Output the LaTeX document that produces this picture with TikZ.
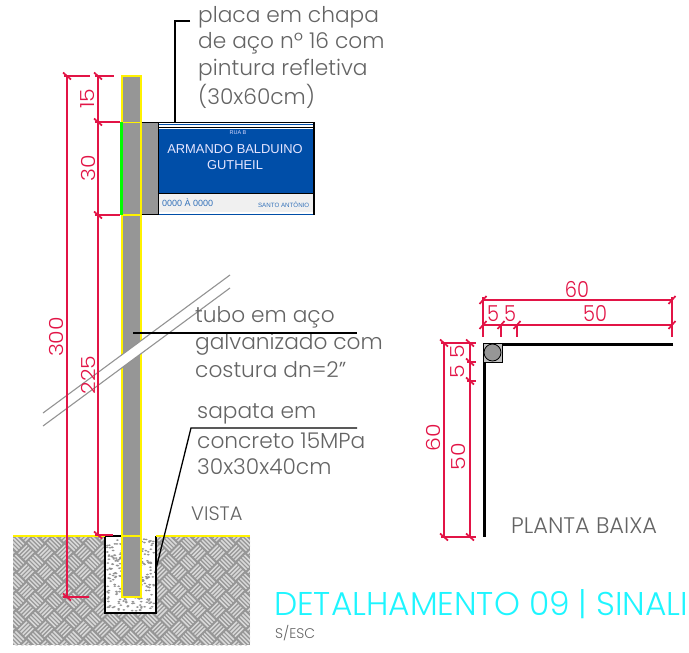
\documentclass[tikz,border=0pt]{standalone}
\usepackage{fontspec}
\setmainfont{Poppins}[UprightFont={* Light}]
\newfontfamily\arialfont{Liberation Sans}
\definecolor{dimred}{RGB}{226,20,70}
\definecolor{textgray}{RGB}{100,100,100}
\definecolor{polegray}{RGB}{150,150,150}
\definecolor{plateblue}{RGB}{0,78,168}
\definecolor{titlecyan}{RGB}{30,245,255}
\begin{document}
\begin{tikzpicture}[x=1pt, y=-1pt]
	\tikzstyle{dimline} = [draw=dimred, line width=1.2pt]
	\tikzstyle{dimtick} = [draw=dimred, line width=1.7pt]
	\tikzstyle{dimtext} = [text=dimred, font=\fontsize{22}{22}\selectfont, inner sep=0pt, xscale=0.88]
	\tikzstyle{note}    = [text=textgray, font=\fontsize{21.7}{21.7}\selectfont, inner sep=0pt, anchor=west]
	\tikzstyle{leader}  = [draw=black, line width=1.3pt]
	\tikzstyle{breakln} = [draw=gray!85, line width=1.1pt]
	\useasboundingbox (0,0) rectangle (689,653);

	% terreno
	\begin{scope}
		\clip (13,537) rectangle (250,645);
		\fill[polegray] (13,537) rectangle (250,645);
		\begin{scope}[shift={(131,591)}, rotate=45]
			\foreach \i in {-10,...,9}
				\foreach \j in {-10,...,9} {
					\pgfmathparse{int(mod(\i+\j+100,2))}
					\ifnum\pgfmathresult=0
						\foreach \k in {2.2,5.2,8.2,11.2}
							\draw[gray!30, line width=1.5pt] (\i*13.5+0.8,\j*13.5+\k) -- (\i*13.5+12.7,\j*13.5+\k);
					\else
						\foreach \k in {2.2,5.2,8.2,11.2}
							\draw[gray!30, line width=1.5pt] (\i*13.5+\k,\j*13.5+0.8) -- (\i*13.5+\k,\j*13.5+12.7);
					\fi
				}
		\end{scope}
	\end{scope}

	% sapata
	\fill[white] (105,537) rectangle (156,613);
	\pgfmathsetseed{9}
	\foreach \n in {1,...,260} {
		\pgfmathsetmacro{\px}{107+47*rnd}
		\pgfmathsetmacro{\py}{539+72*rnd}
		\fill[gray!85] (\px,\py) ellipse (1.5 and 0.9);
	}
	\draw[black, line width=1.3pt] (121,536) -- (105,536) -- (105,613) -- (156,613) -- (156,536);
	\draw[yellow, line width=2.4pt] (13,536) -- (105,536) (156,536) -- (250,536);

	% poste
	\draw[yellow, fill=polegray, line width=2pt] (121.5,76) rectangle (140.5,597);
	\draw[yellow, line width=1.6pt] (121.5,122.5) -- (140.5,122.5) (121.5,215) -- (140.5,215) (121.5,536) -- (140.5,536);
	\draw[green, line width=2.4pt] (121.5,122) -- (121.5,215);

	% placa
	\fill[polegray] (141.5,123) rectangle (158,215);
	\fill[plateblue] (158,129) rectangle (314,193);
	\fill[gray!12] (158,194) rectangle (314,212);
	\draw[black, line width=1.8pt] (141.5,122.5) -- (314,122.5) (158,127.5) -- (314,127.5) (158,193.5) -- (314,193.5) (141.5,214.5) -- (314,214.5);
	\draw[black, line width=1.2pt] (158.5,122) -- (158.5,215) (314,122) -- (314,215);
	\draw[plateblue, line width=0.8pt] (159,124.5) -- (313,124.5) (159,214.5) -- (313,214.5);
	\node[text=white!85!blue, font=\arialfont\fontsize{5.5}{5.5}\selectfont] (ruab) at (238,133) {RUA B};
	\node[text=white!90!blue, font=\arialfont\fontsize{12.9}{12.9}\selectfont, inner sep=0pt] (rua1) at (235,149) {ARMANDO BALDUINO};
	\node[text=white!90!blue, font=\arialfont\fontsize{12.9}{12.9}\selectfont, inner sep=0pt] (rua2) at (235,165) {GUTHEIL};
	\node[text=plateblue!80!white, font=\arialfont\fontsize{9}{9}\selectfont, inner sep=0pt, anchor=west] (numeros) at (162,202.5) {0000 À 0000};
	\node[text=plateblue!80!white, font=\arialfont\fontsize{6.2}{6.2}\selectfont, inner sep=0pt, anchor=east] (bairro) at (309.5,204.5) {SANTO ANTÔNIO};

	% linhas de corte
	\fill[white] (43,413) -- (230,275) -- (230,288) -- (43,426) -- cycle;
	\draw[breakln] (43,413) -- (230,275);
	\draw[breakln] (43,426) -- (230,288);

	% cotas verticais, vista
	\draw[dimline] (67,76) -- (67,597);
	\draw[dimline] (98,76) -- (98,535);
	\foreach \xa/\xb/\y in {64/90/76, 63/89/597, 95/114/76, 95/120/122, 95/120/215, 95/113/535}
		\draw[dimline] (\xa,\y) -- (\xb,\y);
	\foreach \x/\y in {67/76, 67/597, 98/76, 98/122, 98/215, 98/535}
		\draw[dimtick] (\x-4,\y-3.5) -- (\x+4,\y+3.5);
	\foreach \name/\x/\y/\txt in {cota15/88/99/15, cota30/88/168/30, cota225/88/375/225, cota300/56/337/300}
		\node[dimtext, rotate=90] (\name) at (\x,\y) {\txt};

	% cotas, planta
	\draw[dimline] (483,300) -- (672,300);
	\draw[dimline] (483,325) -- (672,325);
	\draw[dimline] (483,297) -- (483,337);
	\draw[dimline] (672,297) -- (672,337);
	\draw[dimline] (501,325) -- (501,337);
	\draw[dimline] (517,325) -- (517,337);
	\foreach \x/\y in {483/300, 672/300, 483/325, 501/325, 517/325, 672/325}
		\draw[dimtick] (\x-3.5,\y+4) -- (\x+3.5,\y-4);
	\draw[dimline] (444,343) -- (444,537);
	\draw[dimline] (470,343) -- (470,537);
	\draw[dimline] (441,343) -- (476,343);
	\draw[dimline] (441,537) -- (476,537);
	\draw[dimline] (467,362) -- (476,362);
	\draw[dimline] (467,381) -- (476,381);
	\foreach \x/\y in {444/343, 470/343, 470/362, 470/381, 444/537, 470/537}
		\draw[dimtick] (\x-4,\y-3.5) -- (\x+4,\y+3.5);
	\foreach \name/\x/\y/\txt in {top60/577/289/60, top5a/493/314/5, top5b/510/314/5, top50/595/314/50}
		\node[dimtext] (\name) at (\x,\y) {\txt};
	\foreach \name/\x/\y/\txt in {lat60/433/438/60, lat50/458/457/50, lat5a/458/352/5, lat5b/458/372/5}
		\node[dimtext, rotate=90] (\name) at (\x,\y) {\txt};

	% planta
	\draw[black, line width=3pt] (673,344) -- (484,344) -- (484,537);
	\draw[black, fill=polegray!60, line width=1pt] (483,343) rectangle (502,362);
	\node[circle, draw=black, fill=polegray, line width=0.8pt, minimum size=17pt, inner sep=0pt] (tubo) at (492.5,352.5) {};

	% textos
	\foreach \name/\x/\y/\txt in {pl1/198/17/placa em chapa, pl2/198/43/de aço nº 16 com, pl3/198/70/pintura refletiva, pl4/198/96/(30x60cm),
		tb1/195/317/tubo em aço, tb2/195/344/galvanizado com, tb3/195/370/costura dn=2",
		sp1/197/414/sapata em, sp2/197/441/concreto 15MPa, sp3/197/467/30x30x40cm}
		\node[note] (\name) at (\x,\y) {\txt};
	\node[text=textgray, font=\fontsize{19.5}{19.5}\selectfont, inner sep=0pt, anchor=west] (vista) at (191,514) {VISTA};
	\node[text=textgray, font=\fontsize{22.5}{22.5}\selectfont, inner sep=0pt, anchor=west] (planta) at (511,526) {PLANTA BAIXA};
	\node[text=titlecyan, font=\fontsize{32.9}{32.9}\selectfont, inner sep=0pt, anchor=west] (titulo) at (274,604) {DETALHAMENTO 09 | SINALI};
	\node[text=textgray, font=\fontsize{14}{14}\selectfont, inner sep=0pt, anchor=west] (escala) at (275,633) {S/ESC};

	% chamadas
	\coordinate (placaA) at (190,21);
	\coordinate (placaB) at (175,21);
	\coordinate (placaC) at (175,122);
	\coordinate (tuboA) at (133,333);
	\coordinate (tuboB) at (357,333);
	\coordinate (sapataA) at (357,428);
	\coordinate (sapataB) at (191,428);
	\coordinate (sapataC) at (155,573);
	\draw[leader] (placaA) -- (placaB) -- (placaC);
	\draw[leader] (tuboA) -- (tuboB);
	\draw[leader] (sapataA) -- (sapataB) -- (sapataC);
\end{tikzpicture}
\end{document}
